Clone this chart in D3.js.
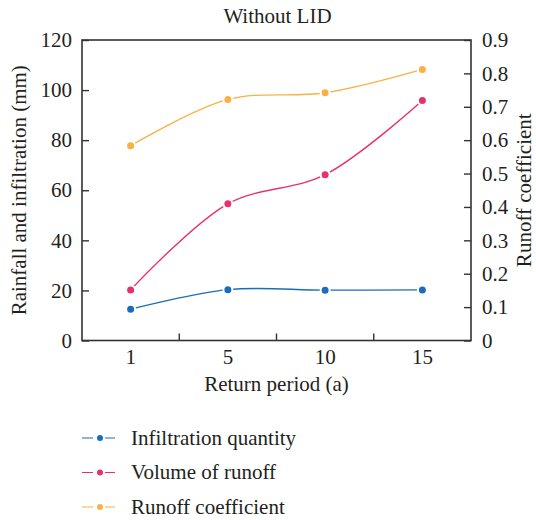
<!DOCTYPE html>
<html>
<head>
<meta charset="utf-8">
<script src="https://cdn.jsdelivr.net/npm/d3@7"></script>
<style>
  body { margin: 0; background: #fff; }
  text { font-family: "Liberation Serif", "DejaVu Serif", serif; fill: #231f20; }
</style>
</head>
<body>
<script>
var WIDTH = 536,
    HEIGHT = 520;

// data
var periods = ["1", "5", "10", "15"];
var infiltration = [12.5, 20.3, 20.1, 20.2];
var runoffVolume = [20.2, 54.6, 66.2, 95.8];
var runoffCoef = [0.583, 0.722, 0.742, 0.812];
var leftTicks = [0, 20, 40, 60, 80, 100, 120];
var rightTicks = [0, 0.1, 0.2, 0.3, 0.4, 0.5, 0.6, 0.7, 0.8, 0.9];

var FONT = "21px";
var x0 = 82, x1 = 471, y0 = 340.5, y1 = 40;

var svg = d3.select("body").append("svg")
      .attr("width", WIDTH)
      .attr("height", HEIGHT);

var x = d3.scaleBand().domain(periods).range([x0, x1]).padding(0),
    yL = d3.scaleLinear().domain([0, 120]).range([y0, y1]),
    yR = d3.scaleLinear().domain([0, 0.9]).range([y0, y1]);

var axisColor = "#333";

// frame
svg.append("rect")
  .attr("x", x0).attr("y", y1)
  .attr("width", x1 - x0).attr("height", y0 - y1)
  .attr("fill", "none")
  .attr("stroke", axisColor)
  .attr("stroke-width", 1.6);

// left axis
var gL = svg.append("g").attr("transform", "translate(" + x0 + ",0)")
  .call(d3.axisLeft(yL).tickValues(leftTicks).tickSize(-7).tickPadding(10));
// right axis
var gR = svg.append("g").attr("transform", "translate(" + x1 + ",0)")
  .call(d3.axisRight(yR).tickValues(rightTicks).tickSize(-7).tickPadding(11)
    .tickFormat(function(d) { return d === 0 ? "0" : d3.format(".1f")(d); }));
// bottom axis: labels at band centres, ticks at band boundaries
var gB = svg.append("g").attr("transform", "translate(0," + y0 + ")")
  .call(d3.axisBottom(x).tickSize(0).tickPadding(9));
gB.selectAll(".tick-b").data(periods.slice(1)).enter().append("line")
  .attr("x1", function(d) { return x(d); })
  .attr("x2", function(d) { return x(d); })
  .attr("y1", 0).attr("y2", -7)
  .attr("stroke", axisColor).attr("stroke-width", 1.4);

[gL, gR, gB].forEach(function(g) {
  g.select(".domain").remove();
  g.selectAll(".tick line").attr("stroke", axisColor).attr("stroke-width", 1.4);
  g.selectAll("text")
    .style("font-family", "Liberation Serif, DejaVu Serif, serif")
    .style("font-size", FONT)
    .attr("fill", "#231f20");
});

// labels
svg.append("text").attr("x", (x0 + x1) / 2 + 1).attr("y", 23)
  .attr("text-anchor", "middle").style("font-size", FONT).text("Without LID");
svg.append("text").attr("x", (x0 + x1) / 2).attr("y", 391)
  .attr("text-anchor", "middle").style("font-size", FONT).text("Return period (a)");
svg.append("text")
  .attr("transform", "translate(26," + ((y0 + y1) / 2) + ") rotate(-90)")
  .attr("text-anchor", "middle").style("font-size", FONT)
  .text("Rainfall and infiltration (mm)");
svg.append("text")
  .attr("transform", "translate(531," + ((y0 + y1) / 2) + ") rotate(-90)")
  .attr("text-anchor", "middle").style("font-size", FONT)
  .text("Runoff coefficient");

var series = [
  {name: "Infiltration quantity", values: infiltration, y: yL, color: "#1a6dbd"},
  {name: "Volume of runoff", values: runoffVolume, y: yL, color: "#e8306e"},
  {name: "Runoff coefficient", values: runoffCoef, y: yR, color: "#f9b142"}
];

var cx = function(i) { return x(periods[i]) + x.bandwidth() / 2; };

series.forEach(function(s) {
  var line = d3.line()
    .x(function(d, i) { return cx(i); })
    .y(function(d) { return s.y(d); })
    .curve(d3.curveCatmullRom.alpha(0.5));

  svg.append("path")
    .datum(s.values)
    .attr("fill", "none")
    .attr("stroke", s.color)
    .attr("stroke-width", 1.4)
    .attr("d", line);

  svg.selectAll(null).data(s.values).enter().append("circle")
    .attr("cx", function(d, i) { return cx(i); })
    .attr("cy", function(d) { return s.y(d); })
    .attr("r", 4.5)
    .attr("fill", s.color)
    .attr("stroke", "#fff")
    .attr("stroke-width", 2);
});

// legend
var legend = svg.selectAll(".legend").data(series).enter().append("g")
  .attr("transform", function(d, i) { return "translate(82," + (438 + i * 34.5) + ")"; });

legend.append("line")
  .attr("x1", 0).attr("x2", 36)
  .attr("stroke", function(d) { return d.color; })
  .attr("stroke-width", 1.2)
  .attr("stroke-dasharray", "11,3,1,3,1,3,11");
legend.append("circle")
  .attr("cx", 18).attr("r", 4)
  .attr("fill", function(d) { return d.color; })
  .attr("stroke", "#fff").attr("stroke-width", 2);
legend.append("text")
  .attr("x", 49).attr("dy", "0.33em")
  .style("font-size", FONT)
  .text(function(d) { return d.name; });
</script>
</body>
</html>
